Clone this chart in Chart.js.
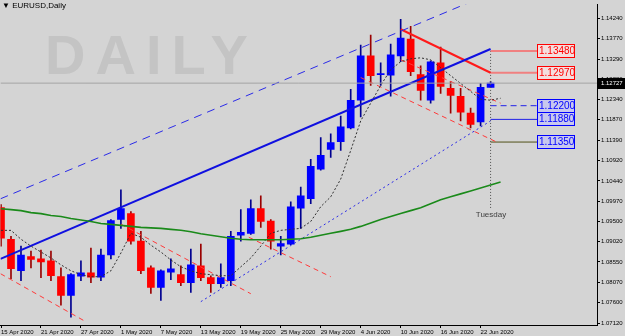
<!DOCTYPE html>
<html>
<head>
<meta charset="utf-8">
<script src="https://cdn.jsdelivr.net/npm/chart.js@4.4.1/dist/chart.umd.min.js"></script>
<style>
  html, body { margin: 0; padding: 0; background: #d4d4d4; }
  #wrap { width: 625px; height: 336px; position: relative; }
</style>
</head>
<body>
<div id="wrap"><canvas id="myChart" width="625" height="336"></canvas></div>
<script>
// EURUSD daily bars, 15 Apr 2020 .. 23 Jun 2020
var opens  = [1.09816,1.09079,1.08342,1.08676,1.08618,1.08572,1.08203,1.07766,1.08215,1.08296,
              1.08192,1.08710,1.09540,1.09678,1.09033,1.08411,1.07950,1.08307,1.08250,1.08065,
              1.08457,1.08180,1.08042,1.08111,1.09171,1.09217,1.09793,1.09505,1.08918,1.08964,
              1.09805,1.10024,1.10715,1.11176,1.11360,1.11683,1.12328,1.13365,1.12927,1.12916,
              1.13365,1.13757,1.12927,1.12328,1.13204,1.12604,1.12420,1.12028,1.11821,1.12628];
var highs  = [1.09886,1.09148,1.08918,1.08803,1.08826,1.08803,1.08411,1.08273,1.08572,1.08872,
              1.08849,1.09540,1.10231,1.09724,1.09263,1.08457,1.08365,1.08618,1.08457,1.08849,
              1.08964,1.08226,1.08503,1.09263,1.09770,1.10001,1.10093,1.09540,1.09148,1.09955,
              1.10300,1.10945,1.11452,1.11545,1.11959,1.12581,1.13618,1.13849,1.13204,1.13641,
              1.14217,1.14056,1.13134,1.13250,1.13572,1.12766,1.12604,1.12144,1.12720,1.12766];
var lows   = [1.08918,1.08157,1.08111,1.08411,1.08180,1.08111,1.07535,1.07259,1.08111,1.08065,
              1.08111,1.08618,1.09333,1.08964,1.08273,1.07812,1.07650,1.08134,1.07996,1.07835,
              1.08111,1.07835,1.07950,1.07996,1.09033,1.09194,1.09356,1.08849,1.08710,1.08952,
              1.09333,1.09909,1.10692,1.10992,1.11153,1.11660,1.11936,1.12674,1.12674,1.12420,
              1.13227,1.12904,1.12328,1.12259,1.12489,1.12028,1.11844,1.11683,1.11729,1.12628];
var closes = [1.09102,1.08388,1.08710,1.08607,1.08549,1.08226,1.07766,1.08250,1.08296,1.08192,
              1.08710,1.09517,1.09793,1.09033,1.08342,1.07950,1.08342,1.08388,1.08065,1.08480,
              1.08180,1.08042,1.08180,1.09148,1.09240,1.09793,1.09494,1.09033,1.08975,1.09839,
              1.10093,1.10784,1.11038,1.11337,1.11706,1.12328,1.13365,1.12904,1.12950,1.13388,
              1.13780,1.12996,1.12558,1.13227,1.12651,1.12443,1.12051,1.11763,1.12628,1.12727];

// slow moving average (green) and fast one (black dotted), one value per bar, last one shifted
var maSlow = [1.09793,1.09770,1.09747,1.09701,1.09678,1.09632,1.09609,1.09563,1.09528,1.09494,
              1.09448,1.09425,1.09402,1.09379,1.09356,1.09344,1.09333,1.09310,1.09287,1.09252,
              1.09206,1.09171,1.09137,1.09102,1.09079,1.09068,1.09068,1.09068,1.09068,1.09079,
              1.09091,1.09125,1.09171,1.09217,1.09263,1.09310,1.09379,1.09459,1.09540,1.09609,
              1.09678,1.09747,1.09816,1.09909,1.10001,1.10070,1.10139,1.10208,1.10277,1.10346,1.10416];
var maFast = [1.09286,1.09286,1.09079,1.08918,1.08780,1.08641,1.08480,1.08342,1.08250,1.08203,
              1.08203,1.08342,1.08756,1.09217,1.09125,1.08941,1.08780,1.08595,1.08434,1.08342,
              1.08273,1.08250,1.08226,1.08226,1.08434,1.08641,1.08918,1.09217,1.09286,1.09310,
              1.09333,1.09494,1.09839,1.10070,1.10485,1.11153,1.11844,1.12259,1.12674,1.13042,
              1.13227,1.13296,1.13319,1.13273,1.13088,1.12904,1.12720,1.12535,1.12351,1.12328,1.12374];

// trend lines as [bar, price] pairs
var trendMain    = [[-0.05, 1.08618], [49, 1.13526]];
var trendUpper   = [[-0.05, 1.10024], [47, 1.14626]];
var trendDotted  = [[20, 1.07620], [49, 1.11844]];
var trendRed     = [[40, 1.13987], [49, 1.12970]];
var redDashA     = [[-0.05, 1.08273], [8.5, 1.07150]];
var redDashB     = [[12, 1.09432], [25, 1.07805]];
var redDashC     = [[24.8, 1.09125], [33, 1.08203]];
var redDashD     = [[36, 1.12858], [49.7, 1.11340]];
var redDashE     = [[40, 1.13273], [50, 1.12259]];

var levelPrices = [1.13480, 1.12970, 1.12200, 1.11880, 1.11350];
var levelLabels = ['1.13480', '1.12970', '1.12200', '1.11880', '1.11350'];
var currentPrice = 1.12727;

var dateLabels = ['15 Apr 2020','21 Apr 2020','27 Apr 2020','1 May 2020','7 May 2020','13 May 2020',
                  '19 May 2020','25 May 2020','29 May 2020','4 Jun 2020','10 Jun 2020','16 Jun 2020','22 Jun 2020'];
var dateTickBars = [0,4,8,12,16,20,24,28,32,36,40,44,48];
var priceTicks = [1.07120,1.07600,1.08070,1.08550,1.09020,1.09500,1.09970,1.10440,
                  1.10920,1.11390,1.11870,1.12340,1.12820,1.13290,1.13770,1.14240];

var FONT = "'Liberation Sans', Arial, sans-serif";

function pts(pairs){ return pairs.map(function(p){ return {x: p[0], y: p[1]}; }); }
function seq(arr){ return arr.map(function(v, i){ return {x: i, y: v}; }); }
function lineDs(data, color, width, dash){
  return { type: 'line', data: data, borderColor: color, borderWidth: width, borderDash: dash || [],
           pointRadius: 0, tension: 0, order: 0, fill: false };
}

var up = closes.map(function(c, i){ return c >= opens[i]; });

var datasets = [
  { type: 'bar', order: 3, grouped: false, barThickness: 1,
    data: lows.map(function(l, i){ return {x: i, y: [l, highs[i]]}; }),
    backgroundColor: up.map(function(u){ return u ? '#000090' : '#9a0000'; }) },
  { type: 'bar', order: 2, grouped: false, barThickness: 7, minBarLength: 1,
    data: opens.map(function(o, i){ return {x: i, y: [o, closes[i]]}; }),
    backgroundColor: up.map(function(u){ return u ? '#0000ff' : '#ff0000'; }) },
  lineDs(pts([[-0.05, currentPrice], [59.65, currentPrice]]), '#a4a4a4', 1),
  lineDs(seq(maSlow), '#1a8a1a', 1.6),
  lineDs(seq(maFast), '#303030', 1, [2, 2]),
  lineDs(pts(trendMain), '#1010e0', 2),
  lineDs(pts(trendUpper), '#2a2ae8', 1, [8, 6]),
  lineDs(pts(trendDotted), '#2a2ae8', 1, [2, 3]),
  lineDs(pts(trendRed), '#ff1a1a', 2),
  lineDs(pts(redDashA), '#ff3a3a', 1, [5, 4]),
  lineDs(pts(redDashB), '#ff3a3a', 1, [5, 4]),
  lineDs(pts(redDashC), '#ff3a3a', 1, [5, 4]),
  lineDs(pts(redDashD), '#ff3a3a', 1, [5, 4]),
  lineDs(pts(redDashE), '#ff3a3a', 1, [5, 4]),
  lineDs(pts([[49, levelPrices[0]], [53.65, levelPrices[0]]]), '#f08080', 2),
  lineDs(pts([[49, levelPrices[1]], [53.65, levelPrices[1]]]), '#f08080', 2),
  lineDs(pts([[49, levelPrices[2]], [53.65, levelPrices[2]]]), '#2020e8', 1, [6, 4]),
  lineDs(pts([[49, levelPrices[3]], [53.65, levelPrices[3]]]), '#2020e8', 1),
  lineDs(pts([[49, levelPrices[4]], [53.65, levelPrices[4]]]), '#505018', 1),
  lineDs(pts([[49, levelPrices[0]], [49, 1.09793]]), '#505050', 1, [1, 2])
];

var decor = {
  id: 'decor',
  beforeDraw: function(chart){
    var ctx = chart.ctx;
    ctx.save();
    ctx.fillStyle = '#d4d4d4';
    ctx.fillRect(0, 0, chart.width, chart.height);
    ctx.restore();
  },
  beforeDatasetsDraw: function(chart){
    var ctx = chart.ctx;
    ctx.save();
    ctx.fillStyle = '#c4c4c4';
    ctx.font = "bold 56px 'Liberation Sans', Arial, sans-serif";
    ctx.letterSpacing = '10px';
    ctx.textBaseline = 'alphabetic';
    ctx.fillText('DAILY', 45, 74);
    ctx.letterSpacing = '0px';
    ctx.fillStyle = '#000';
    ctx.font = "8px 'Liberation Sans', Arial, sans-serif";
    ctx.textBaseline = 'top';
    ctx.fillText('\u25BC EURUSD,Daily', 2, 2);
    ctx.restore();
  },
  afterDraw: function(chart){
    var ctx = chart.ctx, y = chart.scales.y;
    ctx.save();
    ctx.font = "10px 'Liberation Sans', Arial, sans-serif";
    ctx.textBaseline = 'middle';
    levelPrices.forEach(function(p, i){
      var py = Math.round(y.getPixelForValue(p));
      var red = i < 2;
      ctx.fillStyle = red ? '#f4dede' : '#c8c8ee';
      ctx.fillRect(537.5, py - 6.5, 37, 13);
      ctx.strokeStyle = red ? '#ff0000' : '#0000ff';
      ctx.lineWidth = 1;
      ctx.strokeRect(537.5, py - 6.5, 37, 13);
      ctx.fillStyle = red ? '#ff0000' : '#0000ff';
      ctx.fillText(levelLabels[i], 539, py + 0.5);
    });
    // current price tag
    var cy = Math.round(y.getPixelForValue(currentPrice));
    ctx.fillStyle = '#000';
    ctx.fillRect(598, cy - 5, 27, 11);
    ctx.fillStyle = '#fff';
    ctx.font = '6px ' + FONT;
    ctx.fillText(currentPrice.toFixed(5), 601, cy + 0.5);
    // weekday caption under the future line
    ctx.fillStyle = '#404040';
    ctx.font = "8px 'Liberation Sans', Arial, sans-serif";
    ctx.textAlign = 'center';
    ctx.fillText('Tuesday', 491, 215);
    ctx.restore();
  }
};

new Chart(document.getElementById('myChart').getContext('2d'), {
  type: 'bar',
  data: { datasets: datasets },
  plugins: [decor],
  options: {
    responsive: false,
    animation: false,
    events: [],
    layout: { padding: 0 },
    plugins: { legend: { display: false }, tooltip: { enabled: false } },
    scales: {
      x: {
        type: 'linear', position: 'bottom', min: -0.05, max: 59.65, offset: false,
        afterBuildTicks: function(s){ s.ticks = dateTickBars.map(function(v){ return {value: v}; }); },
        afterFit: function(s){ s.height = 11; },
        ticks: {
          autoSkip: false, maxRotation: 0, align: 'start', padding: 1, color: '#000',
          font: { family: FONT, size: 6 },
          callback: function(v){ var k = dateTickBars.indexOf(v); return k >= 0 ? dateLabels[k] : ''; }
        },
        grid: { drawOnChartArea: false, tickLength: 3, color: '#000', offset: false },
        border: { color: '#000', width: 1 }
      },
      y: {
        type: 'linear', position: 'right', min: 1.07074, max: 1.14563,
        afterBuildTicks: function(s){ s.ticks = priceTicks.map(function(v){ return {value: v}; }); },
        afterFit: function(s){ s.width = 28; },
        ticks: {
          padding: 1, color: '#000', font: { family: FONT, size: 6 },
          callback: function(v){ return v.toFixed(5); }
        },
        grid: { drawOnChartArea: false, tickLength: 3, color: '#000' },
        border: { color: '#000', width: 1 }
      }
    }
  }
});
</script>
</body>
</html>
